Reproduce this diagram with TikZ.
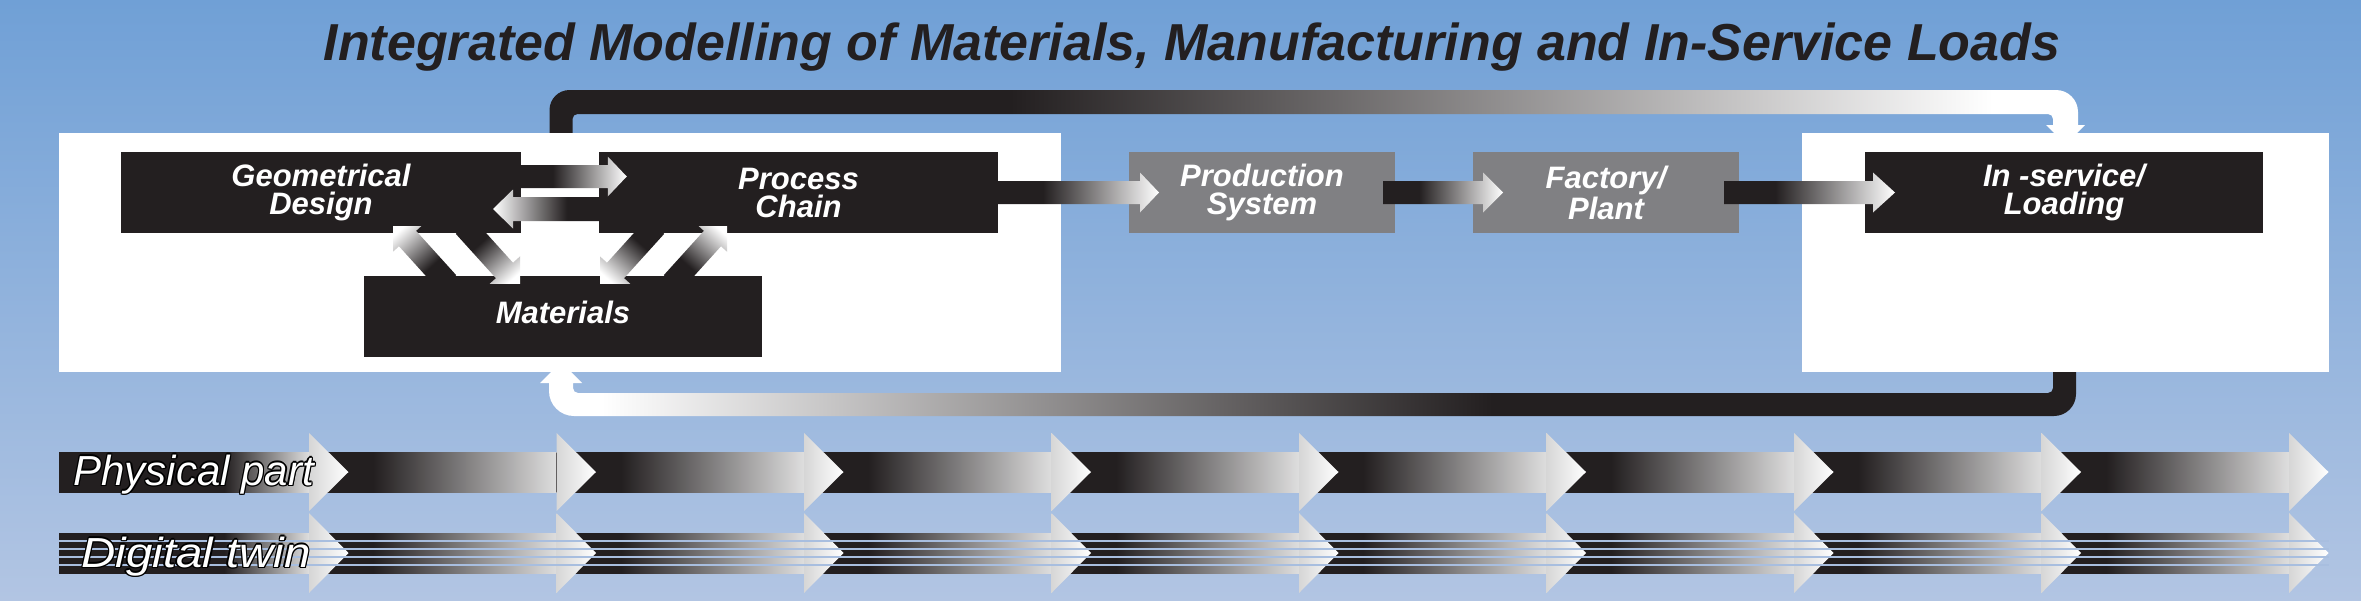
\documentclass[tikz,border=0pt]{standalone}
\usepackage{fontspec}
\setmainfont{Liberation Sans}
\usepackage{graphicx}
\usetikzlibrary{calc}
\definecolor{bgtop}{RGB}{112,160,214}
\definecolor{bgbot}{RGB}{178,197,227}
\definecolor{boxblack}{RGB}{35,31,32}
\definecolor{boxgray}{RGB}{128,128,131}
\definecolor{gapcol}{RGB}{168,190,223}
\colorlet{segend}{black!13}
\colorlet{headback}{black!16}
\pgfdeclarehorizontalshading{arrowshade}{100bp}{color(0bp)=(boxblack); color(25bp)=(boxblack); color(40bp)=(boxblack); color(75bp)=(white); color(100bp)=(white)}
\pgfdeclarehorizontalshading{segshade}{100bp}{color(0bp)=(boxblack); color(25bp)=(boxblack); color(38bp)=(boxblack); color(75bp)=(segend); color(100bp)=(segend)}
\pgfdeclarehorizontalshading{firstseg}{100bp}{color(0bp)=(boxblack); color(25bp)=(boxblack); color(58bp)=(boxblack); color(75bp)=(segend); color(100bp)=(segend)}
\pgfdeclarehorizontalshading{toploop}{100bp}{color(0bp)=(boxblack); color(25bp)=(boxblack); color(40bp)=(boxblack); color(72bp)=(white); color(100bp)=(white)}
\pgfdeclarehorizontalshading{botloop}{100bp}{color(0bp)=(white); color(25bp)=(white); color(27bp)=(white); color(56bp)=(boxblack); color(100bp)=(boxblack)}
\tikzset{
  box/.style={inner sep=0pt, outer sep=0pt, minimum height=40.5pt, text=white, align=center,
    font=\bfseries\itshape\fontsize{15.5}{14}\selectfont},
  blackbox/.style={box, fill=boxblack},
  graybox/.style={box, fill=boxgray},
  panel/.style={fill=white, inner sep=0pt, outer sep=0pt},
  labeltext/.style={font=\itshape\fontsize{21}{24}\selectfont, anchor=base west, inner sep=0pt},
  headshade/.style={left color=headback, right color=white},
}
% tail, tip, shaft half, head half, head length, shading angle
\newcommand\fatarrow[6]{%
  \coordinate (faH) at ($(#2)!#5!(#1)$);
  \shade[shading=arrowshade, shading angle=#6]
    ($(#1)!#3!90:(#2)$) -- ($(faH)!#3!-90:(#1)$) -- ($(faH)!#4!-90:(#1)$) -- (#2)
    -- ($(faH)!#4!90:(#1)$) -- ($(faH)!#3!90:(#1)$) -- ($(#1)!#3!-90:(#2)$) -- cycle;
}
\newcommand\outlinedtext[3]{%
  \foreach \dx/\dy [count=\i] in {-1.4/0,1.4/0,0/-1.4,0/1.4,-1/-1,1/-1,-1/1,1/1}
    \node[labeltext, text=black] (#1\i) at ($(#2)+(\dx,\dy)$) {#3};
  \node[labeltext, text=white] (#1) at (#2) {#3};
}
\begin{document}
\begin{tikzpicture}[x=0.5pt,y=-0.5pt]
\useasboundingbox (0,0) rectangle (2361,600);
\shade[top color=bgtop, bottom color=bgbot] (0,0) rectangle (2361,600);

% title
\node[font=\bfseries\itshape\fontsize{26}{30}\selectfont, text=boxblack, anchor=base, inner sep=0pt]
  (title) at (1192,60) {Integrated Modelling of Materials, Manufacturing and In-Service Loads};

% feedback loops
\shade[shading=toploop] (549.5,145) -- (549.5,110) arc[start angle=180, end angle=270, radius=20]
  -- (2056,90) arc[start angle=270, end angle=360, radius=22] -- (2078,125) -- (2085,125)
  -- (2065.5,144.5) -- (2046,125) -- (2053,125) -- (2053,119) arc[start angle=0, end angle=-90, radius=5]
  -- (577.5,114) arc[start angle=270, end angle=180, radius=5] -- (572.5,145) -- cycle;
\shade[shading=botloop] (2053,365) -- (2053,388) arc[start angle=0, end angle=90, radius=5]
  -- (578,393) arc[start angle=90, end angle=180, radius=5] -- (573,383) -- (582,383)
  -- (561,362) -- (540,383) -- (549,383) -- (549,391) arc[start angle=180, end angle=90, radius=25]
  -- (2054,416) arc[start angle=90, end angle=0, radius=22] -- (2076,365) -- cycle;

% white panels
\node[panel, minimum width=501pt, minimum height=119.5pt] (leftpanel) at (560,252.5) {};
\node[panel, minimum width=263.5pt, minimum height=119.5pt] (rightpanel) at (2065.5,252.5) {};

% boxes
\node[blackbox, minimum width=200pt] (gd) at (321,192.5) {Geometrical\\Design};
\node[blackbox, minimum width=199.75pt] (pc) at (798.5,192.5) {Process\\Chain};
\node[blackbox, minimum width=199pt, text depth=4pt] (mat) at (563,316.5) {Materials};
\node[graybox, minimum width=133pt] (prod) at (1262,192.5) {Production\\System};
\node[graybox, minimum width=133pt] (fac) at (1606,192.5) {Factory/\\Plant};
\node[blackbox, minimum width=199pt] (ins) at (2064,192.5) {In -service/\\Loading};

% horizontal arrows
\coordinate (eT) at ($(gd.east)+(0,-16)$);
\coordinate (eP) at ($(pc.west)+(28,-16)$);
\fatarrow{eT}{eP}{5.75pt}{10pt}{9.5pt}{0}
\coordinate (fT) at ($(pc.west)+(0,16.5)$);
\coordinate (fP) at ($(gd.east)+(-28,16.5)$);
\fatarrow{fT}{fP}{6pt}{9.75pt}{10pt}{180}
\coordinate (gT) at ($(pc.east)+(-5,0)$);
\coordinate (gP) at ($(prod.west)+(30,0)$);
\fatarrow{gT}{gP}{5.75pt}{10pt}{9.5pt}{0}
\coordinate (hT) at ($(prod.east)+(-12,0)$);
\coordinate (hP) at ($(fac.west)+(30,0)$);
\fatarrow{hT}{hP}{5.75pt}{10pt}{10pt}{0}
\coordinate (iT) at ($(fac.east)+(-15,0)$);
\coordinate (iP) at ($(ins.west)+(30,0)$);
\fatarrow{iT}{iP}{5.75pt}{10pt}{11pt}{0}

% diagonal arrows between materials and boxes
\coordinate (aT) at (447.7,282.9); \coordinate (aP) at (390.75,220);
\coordinate (bT) at (464.3,226.1); \coordinate (bP) at (521.25,289);
\coordinate (cT) at (655.7,226.1); \coordinate (cP) at (598.75,289);
\coordinate (dT) at (672.3,282.9); \coordinate (dP) at (729.25,220);
\begin{scope}
  \clip (393,226) rectangle (480,276);
  \fatarrow{aT}{aP}{5.75pt}{12pt}{12.5pt}{132}
\end{scope}
\begin{scope}
  \clip (430,233) rectangle (520,283);
  \fatarrow{bT}{bP}{5.75pt}{12pt}{12.5pt}{-48}
\end{scope}
\begin{scope}
  \clip (600,233) rectangle (690,283);
  \fatarrow{cT}{cP}{5.75pt}{12pt}{12.5pt}{228}
\end{scope}
\begin{scope}
  \clip (640,226) rectangle (727,276);
  \fatarrow{dT}{dP}{5.75pt}{12pt}{12.5pt}{48}
\end{scope}

% physical part bar
\shade[shading=firstseg] (59,452) rectangle (309,492);
\foreach \k in {1,...,8}
  \shade[shading=segshade] ({309+247.5*(\k-1)},452) rectangle ({309+247.5*\k},492);
\foreach \k in {0,...,8}
  \shade[headshade] ({309+247.5*\k},433) -- ({348.5+247.5*\k},472) -- ({309+247.5*\k},511) -- cycle;

% digital twin bar
\shade[shading=firstseg] (59,533) rectangle (309,573);
\foreach \k in {1,...,8}
  \shade[shading=segshade] ({309+247.5*(\k-1)},533) rectangle ({309+247.5*\k},573);
\foreach \k in {0,...,8}
  \shade[headshade] ({309+247.5*\k},513) -- ({348.5+247.5*\k},553) -- ({309+247.5*\k},593) -- cycle;
\foreach \yy in {541,549,557,565}
  \draw[gapcol, line width=1pt] (59,\yy) -- (2329,\yy);

\outlinedtext{pp}{73,485}{Physical part}
\outlinedtext{dt}{81,567}{\scalebox{1.13}[1]{Digital twin}}
\end{tikzpicture}
\end{document}
